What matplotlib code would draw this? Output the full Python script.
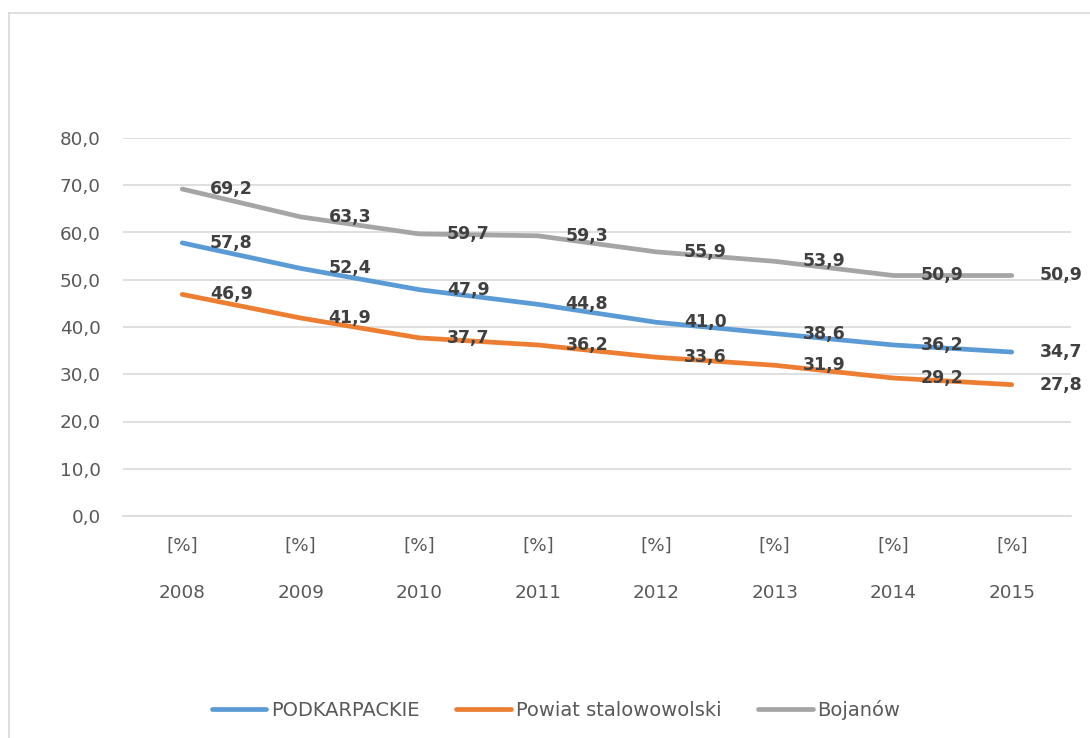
import matplotlib
matplotlib.use("Agg")
import matplotlib.pyplot as plt
from matplotlib.lines import Line2D
import matplotlib.transforms as mtransforms

years = ["2008", "2009", "2010", "2011", "2012", "2013", "2014", "2015"]
unit_labels = ["[%]"] * 8
podkarpackie = [57.8, 52.4, 47.9, 44.8, 41.0, 38.6, 36.2, 34.7]
stalowowolski = [46.9, 41.9, 37.7, 36.2, 33.6, 31.9, 29.2, 27.8]
bojanow = [69.2, 63.3, 59.7, 59.3, 55.9, 53.9, 50.9, 50.9]

series = [
    ("PODKARPACKIE", podkarpackie, "#5B9BD5"),
    ("Powiat stalowowolski", stalowowolski, "#ED7D31"),
    ("Bojanów", bojanow, "#A5A5A5"),
]

plt.rcParams['font.family'] = ['DejaVu Sans']
txt_color = "#595959"
fs = 13.2

fig = plt.figure(figsize=(10.9, 7.38), dpi=100)
W, H = 1090, 738
fig.lines.append(Line2D([9/W, 1.0], [1 - 13/H, 1 - 13/H], transform=fig.transFigure,
                        color="#D9D9D9", linewidth=1.2))
fig.lines.append(Line2D([9/W, 9/W], [0.0, 1 - 13/H], transform=fig.transFigure,
                        color="#D9D9D9", linewidth=1.2))

ax = fig.add_axes([123/W, 1 - 516/H, (1071-123)/W, (516-138)/H])
x = list(range(len(years)))
for name, vals, col in series:
    ax.plot(x, vals, color=col, linewidth=3.4, solid_capstyle='round', label=name)

for name, vals, col in series:
    for xi, v in zip(x, vals):
        ax.annotate(f"{v:.1f}".replace(".", ","), (xi, v), xytext=(20, 0),
                    textcoords="offset points", ha="left", va="center",
                    fontsize=12.5, fontweight="bold", color="#404040",
                    annotation_clip=False)

ax.set_ylim(0, 80)
ax.set_xlim(-0.5, len(years) - 0.5)
ax.set_yticks(range(0, 81, 10))
ax.set_yticklabels([f"{v:.1f}".replace(".", ",") for v in range(0, 81, 10)])
ax.yaxis.grid(True, color="#D9D9D9", linewidth=1.2)
ax.set_axisbelow(True)
for s in ["top", "right", "left"]:
    ax.spines[s].set_visible(False)
ax.spines["bottom"].set_color("#D9D9D9")
ax.spines["bottom"].set_linewidth(1.2)
ax.tick_params(axis="y", length=0, labelsize=fs, labelcolor=txt_color, pad=16)
ax.set_xticks(x)
ax.set_xticklabels(unit_labels)
ax.tick_params(axis="x", length=0, labelsize=fs, labelcolor=txt_color, pad=15)

trans = mtransforms.blended_transform_factory(ax.transData, fig.transFigure)
for xi, yr in zip(x, years):
    ax.text(xi, 1 - 593/H, yr, transform=trans, ha="center", va="center",
            fontsize=fs, color=txt_color)

leg = fig.legend(loc="center", bbox_to_anchor=(556/W, 1 - 710/H), ncol=3,
                 frameon=False, fontsize=14, handlelength=2.8, handletextpad=0.25,
                 columnspacing=1.9)
for t in leg.get_texts():
    t.set_color(txt_color)

fig.savefig("out.png", dpi=100)
